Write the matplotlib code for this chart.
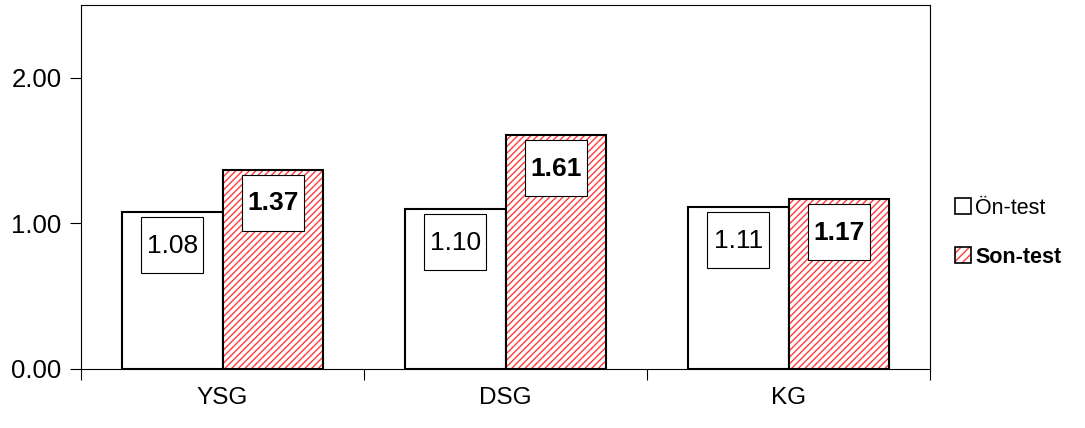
import matplotlib.pyplot as plt
import numpy as np
from matplotlib.patches import Patch, Rectangle
from matplotlib.legend_handler import HandlerTuple
from matplotlib.transforms import Affine2D, ScaledTranslation

plt.rcParams['font.family'] = ['Liberation Sans', 'DejaVu Sans']
plt.rcParams['hatch.linewidth'] = 1.0

groups = ['YSG', 'DSG', 'KG']
on_test = [1.08, 1.10, 1.11]
son_test = [1.37, 1.61, 1.17]
series_names = ['Ön-test', 'Son-test']

red = '#ff3b3b'
fig = plt.figure(figsize=(10.85, 4.28), dpi=100)
ax = fig.add_axes([0.0747, 0.1379, 0.7825, 0.8504])

x = np.arange(len(groups))
w = 0.355

ax.bar(x - w / 2, on_test, w, color='white', edgecolor='black', linewidth=1.5, zorder=2)
ax.bar(x + w / 2, son_test, w, color='white', edgecolor=red, hatch='/////', linewidth=0, zorder=2)
ax.bar(x + w / 2, son_test, w, fill=False, edgecolor='black', linewidth=1.5, zorder=3)

# value boxes hanging just under each bar top
box_w, box_h, gap = 62, 56, 5
for xs, vals, bold in [(x - w / 2, on_test, False), (x + w / 2, son_test, True)]:
    for xi, v in zip(xs, vals):
        tr = Affine2D().translate(-box_w / 2, -box_h - gap) + ScaledTranslation(xi, v, ax.transData)
        ax.add_patch(Rectangle((0, 0), box_w, box_h, transform=tr, facecolor='white',
                               edgecolor='black', linewidth=0.8, zorder=4))
        ax.annotate(f'{v:.2f}', (xi, v), xytext=(0, -29.5), textcoords='offset points',
                    ha='center', va='baseline', fontsize=19,
                    fontweight='bold' if bold else 'normal', zorder=5)

ax.set_xlim(-0.5, 2.5)
ax.set_ylim(0, 2.5)
ax.set_yticks([0, 1, 2])
ax.set_yticklabels([f'{t:.2f}' for t in [0, 1, 2]], fontsize=18.5)
ax.tick_params(axis='y', length=8, width=0.8, pad=6)

ax.set_xticks([-0.5, 0.5, 1.5, 2.5])
ax.set_xticklabels([])
ax.tick_params(axis='x', which='major', length=8, width=0.8)
ax.set_xticks(x, minor=True)
ax.set_xticklabels(groups, minor=True, fontsize=17.5)
ax.tick_params(axis='x', which='minor', length=0, pad=13)

for s in ax.spines.values():
    s.set_linewidth(0.8)

h_on = Patch(facecolor='white', edgecolor='black', linewidth=1.2)
h_son = (Patch(facecolor='white', edgecolor=red, hatch='////', linewidth=0),
         Patch(fill=False, edgecolor='black', linewidth=1.2))
leg = ax.legend([h_on, h_son], series_names, loc='center left', bbox_to_anchor=(1.029, 0.374),
                frameon=False, fontsize=15.5, handlelength=0.75, handleheight=0.75,
                handletextpad=0.2, labelspacing=1.3, borderpad=0, borderaxespad=0,
                handler_map={tuple: HandlerTuple(ndivide=1, pad=0)})
leg.get_texts()[1].set_fontweight('bold')

fig.savefig('out.png', dpi=100)
